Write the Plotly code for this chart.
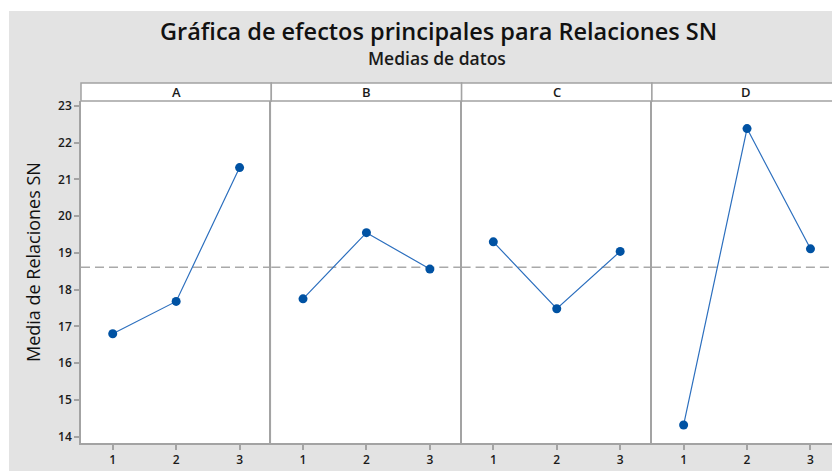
import plotly.graph_objects as go

factors = ["A", "B", "C", "D"]
levels = [1, 2, 3]
level_labels = ["1", "2", "3"]
means_A = [16.80, 17.68, 21.32]
means_B = [17.75, 19.55, 18.56]
means_C = [19.30, 17.48, 19.04]
means_D = [14.32, 22.38, 19.11]
grand_mean = 18.61
y_ticks = [14, 15, 16, 17, 18, 19, 20, 21, 22, 23]

title_text = "Gráfica de efectos principales para Relaciones SN"
subtitle_text = "Medias de datos"
y_title = "Media de Relaciones SN"

all_means = [means_A, means_B, means_C, means_D]

# the page body adds an 8px margin; positions below are window pixels
OFF = 8
W, H = 840 - OFF, 471 - OFF
L = 81 - OFF
T = 101 - OFF
B = H - (443 - OFF)
R = 0
pw = W - L - R
ph = H - T - B
panel_px = 190.3
edges = [0, panel_px / pw, 2 * panel_px / pw, 3 * panel_px / pw, 1.0]

GRAY_BG = "#e3e3e3"
AXIS = "#a3a3a3"
LINE_C = "#2c6fbe"
MARK_C = "#0052a3"
FONT = "Open Sans"
TXT = "#1a1a1a"

fig = go.Figure()
shapes = []
annotations = []

def px_to_paper_x(px):
    return (px - OFF - L) / pw

def px_to_paper_y(py):
    return (H - B - (py - OFF)) / ph

# gray background panel
shapes.append(dict(type="rect", xref="paper", yref="paper",
                   x0=px_to_paper_x(9), x1=px_to_paper_x(850),
                   y0=px_to_paper_y(480), y1=px_to_paper_y(11),
                   fillcolor=GRAY_BG, line=dict(width=0), layer="below"))

for i, (fac, vals) in enumerate(zip(factors, all_means)):
    sfx = "" if i == 0 else str(i + 1)
    xa = "x" + sfx
    ya = "y" + sfx
    fig.add_trace(go.Scatter(
        x=levels, y=vals, mode="lines+markers",
        line=dict(color=LINE_C, width=1.2),
        marker=dict(color=MARK_C, size=9),
        xaxis=xa, yaxis=ya, showlegend=False, hoverinfo="x+y"))
    dom_w = (edges[i + 1] - edges[i]) * pw
    xr = [0.5, 0.5 + 3.0 * dom_w / panel_px]
    fig.layout["xaxis" + sfx] = dict(
        domain=[edges[i], edges[i + 1]], range=xr, anchor=ya,
        tickvals=levels, ticktext=level_labels, ticks="outside",
        ticklen=5, tickcolor=AXIS, tickwidth=1.5, showline=True, linecolor=AXIS,
        linewidth=1.5, mirror=False, showgrid=False, zeroline=False,
        tickfont=dict(family=FONT, size=12, color=TXT, weight=600))
    yd = dict(domain=[0, 1], range=[13.83, 23.13], anchor=xa,
              showline=True, linecolor=AXIS, linewidth=1.5, mirror=(i == 3),
              showgrid=False, zeroline=False)
    if i == 0:
        yd.update(tickvals=y_ticks, ticks="outside", ticklen=5,
                  tickcolor=AXIS, tickwidth=1.5,
                  tickfont=dict(family=FONT, size=12, color=TXT, weight=600))
    else:
        yd.update(showticklabels=False, ticks="", matches="y")
    fig.layout["yaxis" + sfx] = yd
    # white plot area
    shapes.append(dict(type="rect", xref=xa + " domain", yref=ya + " domain",
                       x0=0, x1=1, y0=0, y1=1, fillcolor="white",
                       line=dict(width=0), layer="below"))
    # header strip
    shapes.append(dict(type="rect", xref=xa + " domain", yref="paper",
                       x0=0, x1=1, y0=1, y1=1 + 18 / ph, fillcolor="white",
                       line=dict(color=AXIS, width=1.5), layer="above"))
    # reference line
    shapes.append(dict(type="line", xref=xa + " domain", yref=ya,
                       x0=0, x1=1, y0=grand_mean, y1=grand_mean,
                       line=dict(color="#a9a9a9", width=1.5, dash="9px,5px"),
                       layer="below"))
    annotations.append(dict(text=fac, xref=xa + " domain", yref="paper",
                            x=0.5, y=1 + 9 / ph, showarrow=False,
                            xanchor="center", yanchor="middle",
                            font=dict(family=FONT, size=13, color=TXT, weight=600)))

annotations.append(dict(text=title_text, xref="paper", yref="paper",
                        x=px_to_paper_x(438), y=px_to_paper_y(31), showarrow=False,
                        xanchor="center", yanchor="middle",
                        font=dict(family=FONT, size=23.5, color="#111111", weight=600)))
annotations.append(dict(text=subtitle_text, xref="paper", yref="paper",
                        x=px_to_paper_x(437), y=px_to_paper_y(58), showarrow=False,
                        xanchor="center", yanchor="middle",
                        font=dict(family=FONT, size=17.5, color="#1a1a1a", weight=600)))
annotations.append(dict(text=y_title, xref="paper", yref="paper",
                        x=px_to_paper_x(33), y=px_to_paper_y(262), showarrow=False,
                        xanchor="center", yanchor="middle", textangle=-90,
                        font=dict(family=FONT, size=18, color="#111111")))

fig.update_layout(
    width=W, height=H,
    margin=dict(l=L, r=R, t=T, b=B, autoexpand=False),
    paper_bgcolor="white", plot_bgcolor="white",
    shapes=shapes, annotations=annotations,
    font=dict(family=FONT),
)

fig.write_html("out.html")
